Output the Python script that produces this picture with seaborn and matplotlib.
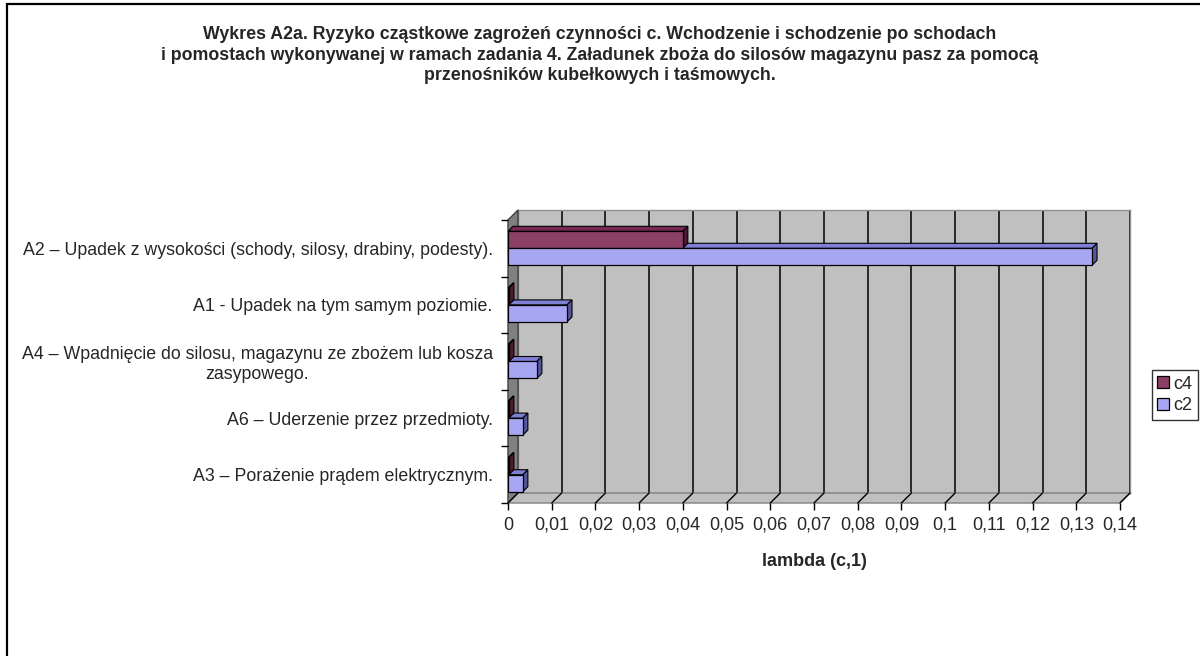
import numpy as np
import pandas as pd
import matplotlib
matplotlib.use("Agg")
import matplotlib.pyplot as plt
import seaborn as sns
from matplotlib.patches import Polygon, Rectangle
from matplotlib.lines import Line2D
from matplotlib.transforms import IdentityTransform
from matplotlib.ticker import FuncFormatter

categories = [
    "A2 – Upadek z wysokości (schody, silosy, drabiny, podesty).",
    "A1 - Upadek na tym samym poziomie.",
    "A4 – Wpadnięcie do silosu, magazynu ze zbożem lub kosza\nzasypowego.",
    "A6 – Uderzenie przez przedmioty.",
    "A3 – Porażenie prądem elektrycznym.",
]
c4_values = [0.0400, 0.0002, 0.0002, 0.0002, 0.0002]
c2_values = [0.1336, 0.0135, 0.0066, 0.0034, 0.0034]
series = ["c4", "c2"]
colors = {"c4": "#993366", "c2": "#9999FF"}
side_colors = {"c4": "#4d1a33", "c2": "#555599"}
top_colors = {"c4": "#7a2952", "c2": "#7f7fd6"}
x_ticks = [round(0.01 * i, 2) for i in range(15)]

df = pd.DataFrame(
    {
        "category": categories * 2,
        "value": c4_values + c2_values,
        "series": ["c4"] * len(categories) + ["c2"] * len(categories),
    }
)

sns.set_style("white")
plt.rcParams["font.family"] = ["Liberation Sans", "DejaVu Sans"]

W, H = 1200, 656
fig = plt.figure(figsize=(W / 100, H / 100), dpi=100)

# outer chart border (cropped on right and bottom)
fig.patches.append(
    Rectangle((7 / W, -1), 2, 1 - 4 / H + 1, transform=fig.transFigure,
              fill=False, edgecolor="black", linewidth=1.6)
)

# plot geometry in pixels (front plane), depth offset of the walls
fx0, fx1, fy_top, fy_bot = 508, 1120, 220, 503
D = 10
front_rect = [fx0 / W, 1 - fy_bot / H, (fx1 - fx0) / W, (fy_bot - fy_top) / H]
back_rect = [(fx0 + D) / W, 1 - (fy_bot - D) / H, (fx1 - fx0) / W, (fy_bot - fy_top) / H]

ax_back = fig.add_axes(back_rect, zorder=0)
ax_back.set_facecolor("#c0c0c0")
ax_back.set_xlim(0, 0.14)
ax_back.set_xticks(x_ticks)
ax_back.grid(axis="x", color="black", linewidth=1.1)
ax_back.set_yticks([])
ax_back.tick_params(axis="x", length=0, labelbottom=False)
for s in ax_back.spines.values():
    s.set_color("#909090")
    s.set_linewidth(1)

ax = fig.add_axes(front_rect, zorder=2)
ax.set_facecolor("none")

sns.barplot(
    data=df, y="category", x="value", hue="series", hue_order=series,
    palette=colors, orient="h", width=0.6, edgecolor="black", linewidth=0.9,
    ax=ax, zorder=3, legend=True,
)
ax.set_xlim(0, 0.14)
ax.set_ylim(len(categories) - 0.5, -0.5)
for s in ax.spines.values():
    s.set_visible(False)

# left wall and floor
def px(points):
    return [(x, H - y) for x, y in points]

left_wall = px([(fx0, fy_top), (fx0 + D, fy_top - D), (fx0 + D, fy_bot - D), (fx0, fy_bot)])
floor = px([(fx0, fy_bot), (fx0 + D, fy_bot - D), (fx1 + D, fy_bot - D), (fx1, fy_bot)])
fig.patches.append(Polygon(left_wall, closed=True, transform=IdentityTransform(),
                           facecolor="#808080", edgecolor="#404040", linewidth=1, zorder=1))
fig.patches.append(Polygon(floor, closed=True, transform=IdentityTransform(),
                           facecolor="#c0c0c0", edgecolor="#808080", linewidth=1, zorder=1))

# grid lines continue across the floor
for t in x_ticks:
    xd, yd = ax.transData.transform((t, len(categories) - 0.5))
    fig.lines.append(Line2D([xd, xd + D], [yd, yd + D], transform=IdentityTransform(),
                            color="black", linewidth=1, zorder=1.5))

# 3D faces for the bars (c2 first so c4 faces lie on top)
d = 5
for cont, name in reversed(list(zip(ax.containers, series))):
    for p in cont.patches:
        x0, y0 = p.get_x(), p.get_y()
        x1, y1 = x0 + p.get_width(), y0 + p.get_height()
        (dx0, dya), (dx1, dyb) = ax.transData.transform([(x0, y0), (x1, y1)])
        yt, yb = max(dya, dyb), min(dya, dyb)
        top = [(dx0, yt), (dx1, yt), (dx1 + d, yt + d), (dx0 + d, yt + d)]
        side = [(dx1, yb), (dx1, yt), (dx1 + d, yt + d), (dx1 + d, yb + d)]
        for verts, fc in ((top, top_colors[name]), (side, side_colors[name])):
            ax.add_patch(Polygon(verts, closed=True, transform=IdentityTransform(),
                                 facecolor=fc, edgecolor="black", linewidth=0.8,
                                 zorder=2.5))

# ticks
ax.set_xticks(x_ticks)
ax.xaxis.set_major_formatter(FuncFormatter(lambda v, _: f"{v:g}".replace(".", ",")))
ax.tick_params(axis="x", bottom=True, direction="out", length=5, width=1,
               color="black", labelsize=13, pad=5)
ax.tick_params(axis="y", which="major", length=0, labelsize=12.8, pad=11)
ax.set_yticks(np.arange(-0.5, len(categories), 1.0), minor=True)
ax.tick_params(axis="y", which="minor", left=True, direction="out", length=5,
               width=1, color="black")
for lbl in ax.get_yticklabels():
    lbl.set_multialignment("center")

ax.set_ylabel("")
ax.set_xlabel("lambda (c,1)", fontsize=13, fontweight="bold", labelpad=14)

# legend
handles, labels = ax.get_legend_handles_labels()
ax.legend_.remove()
leg = fig.legend(
    handles, labels, loc="center left", bbox_to_anchor=(1152 / W, 1 - 395 / H),
    bbox_transform=fig.transFigure, frameon=True, fancybox=False,
    edgecolor="black", fontsize=13, handlelength=0.65, handleheight=0.65,
    handletextpad=0.25, borderpad=0.3, labelspacing=0.25, borderaxespad=0,
)
leg.get_frame().set_linewidth(1)

fig.text(
    0.5, 1 - 55 / H,
    "Wykres A2a. Ryzyko cząstkowe zagrożeń czynności c. Wchodzenie i schodzenie po schodach\n"
    "i pomostach wykonywanej w ramach zadania 4. Załadunek zboża do silosów magazynu pasz za pomocą\n"
    "przenośników kubełkowych i taśmowych.",
    ha="center", va="center", fontsize=12.8, fontweight="bold", linespacing=1.3,
)

fig.savefig("out.png", dpi=100)
